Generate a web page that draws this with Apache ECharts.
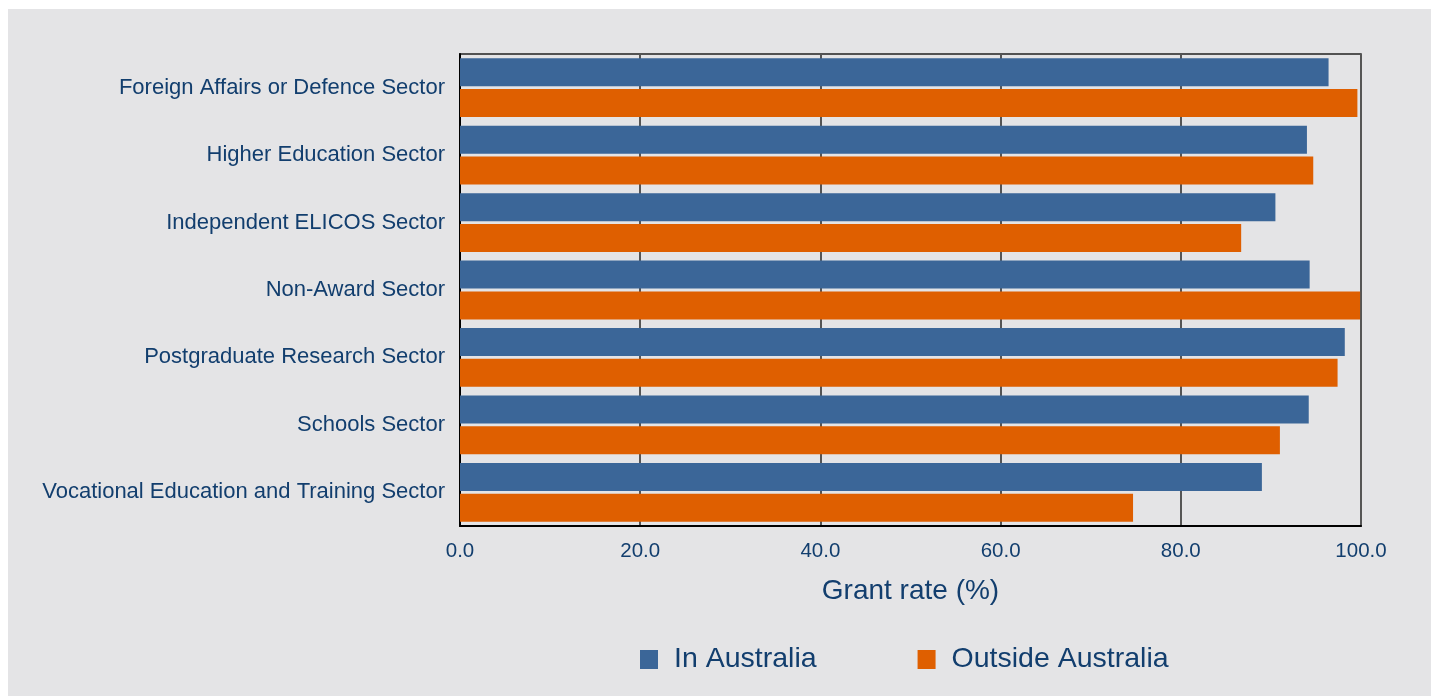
<!DOCTYPE html>
<html>
<head>
<meta charset="utf-8">
<script src="https://cdn.jsdelivr.net/npm/echarts@6/dist/echarts.min.js"></script>
<style>
html,body{margin:0;padding:0;background:#ffffff;}
#wrap{position:absolute;left:8px;top:9px;width:1423px;height:687px;background:#e4e4e6;}
#chart{position:absolute;left:0;top:0;width:1431px;height:696px;}
</style>
</head>
<body>
<div id="wrap"></div>
<div id="chart"></div>
<script>
var categories = [
  "Foreign Affairs or Defence Sector",
  "Higher Education Sector",
  "Independent ELICOS Sector",
  "Non-Award Sector",
  "Postgraduate Research Sector",
  "Schools Sector",
  "Vocational Education and Training Sector"
];
var inAustralia = [96.4, 94.0, 90.5, 94.3, 98.2, 94.2, 89.0];
var outsideAustralia = [99.6, 94.7, 86.7, 99.9, 97.4, 91.0, 74.7];
var xTicks = [0, 20, 40, 60, 80, 100];
var seriesNames = ["In Australia", "Outside Australia"];
var axisTitle = "Grant rate (%)";

var textColor = "#123e6e";
var font = "'Liberation Sans', Arial, sans-serif";
var chart = echarts.init(document.getElementById('chart'), null, {renderer: 'canvas'});
chart.setOption({
  backgroundColor: 'transparent',
  animation: false,
  textStyle: {fontFamily: font},
  grid: {left: 460, top: 54, width: 901, height: 472, containLabel: false,
         show: true, borderColor: '#222', borderWidth: 1.5, backgroundColor: 'transparent'},
  legend: {
    left: 635, top: 640,
    itemWidth: 18, itemHeight: 19, itemGap: 101,
    icon: 'rect',
    textStyle: {color: textColor, fontSize: 28.5, fontFamily: font, padding: [0,0,0,11]},
    data: seriesNames
  },
  xAxis: {
    type: 'value', min: 0, max: 100, interval: 20,
    name: axisTitle, nameLocation: 'middle', nameGap: 51,
    nameTextStyle: {color: textColor, fontSize: 28, fontFamily: font},
    axisLine: {show: true, lineStyle: {color: '#000', width: 2}},
    axisTick: {show: false},
    axisLabel: {color: textColor, fontSize: 20.5, margin: 15, fontFamily: font,
      formatter: function(v){ return xTicks.indexOf(v) >= 0 ? v.toFixed(1) : ''; }},
    splitLine: {show: true, lineStyle: {color: '#555555', width: 2}}
  },
  yAxis: {
    type: 'category', data: categories, inverse: true,
    axisLine: {show: true, lineStyle: {color: '#000', width: 2}},
    axisTick: {show: false},
    axisLabel: {color: textColor, fontSize: 22, margin: 15, fontFamily: font}
  },
  series: [
    {name: seriesNames[0], type: 'bar', data: inAustralia, barWidth: 28, barGap: '10%',
     itemStyle: {color: '#3b6698'}},
    {name: seriesNames[1], type: 'bar', data: outsideAustralia, barWidth: 28, barGap: '10%',
     itemStyle: {color: '#df5f00'}}
  ]
});
</script>
</body>
</html>
